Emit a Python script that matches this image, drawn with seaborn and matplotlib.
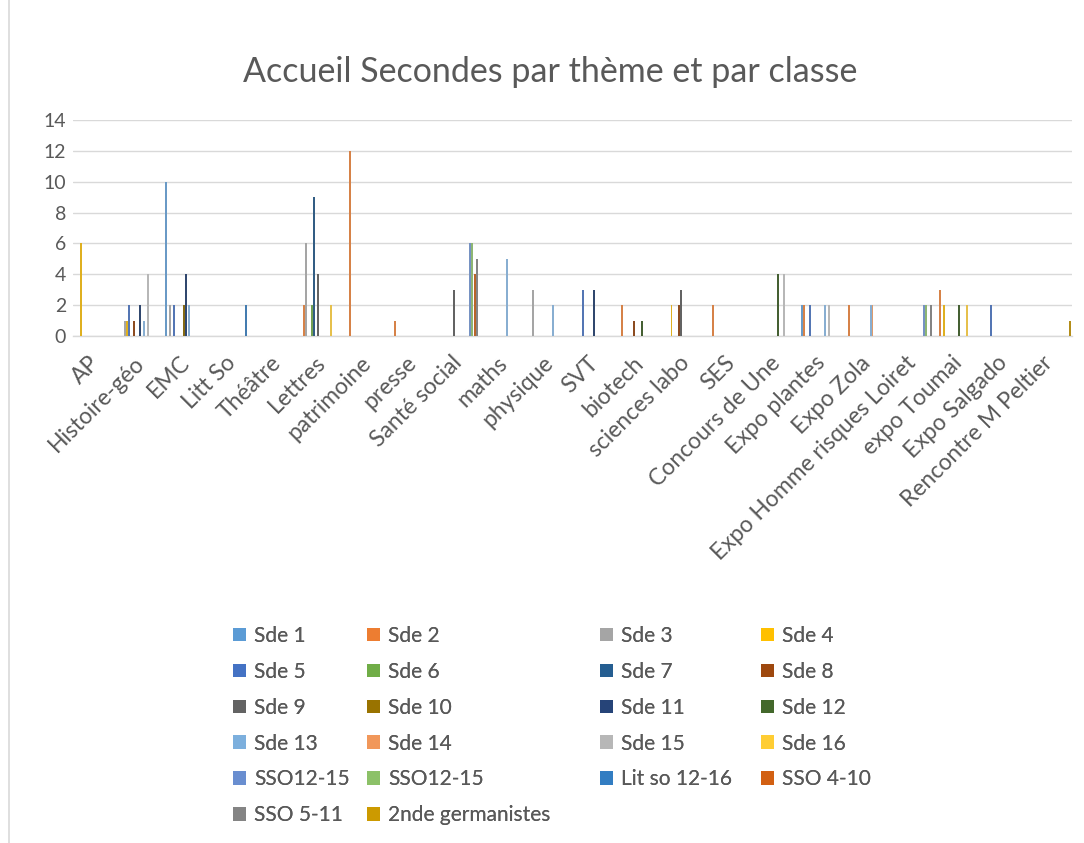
import matplotlib
matplotlib.use("Agg")
import matplotlib.pyplot as plt
import matplotlib.patches as mpatches
from matplotlib.lines import Line2D
import seaborn as sns
import pandas as pd

categories = ["AP", "Histoire-géo", "EMC", "Litt So", "Théâtre", "Lettres",
              "patrimoine", "presse", "Santé social", "maths", "physique", "SVT",
              "biotech", "sciences labo", "SES", "Concours de Une", "Expo plantes",
              "Expo Zola", "Expo Homme risques Loiret", "expo Toumai",
              "Expo Salgado", "Rencontre M Peltier"]

series_names = ["Sde 1", "Sde 2", "Sde 3", "Sde 4", "Sde 5", "Sde 6", "Sde 7", "Sde 8",
                "Sde 9", "Sde 10", "Sde 11", "Sde 12", "Sde 13", "Sde 14", "Sde 15",
                "Sde 16", "SSO12-15", "SSO12-15", "Lit so 12-16", "SSO 4-10",
                "SSO 5-11", "2nde germanistes"]

#            AP HG EMC LS Th Le pa pr SS ma ph SVT bi sl SES CU EP EZ EH ET ES RP
sde_1     = [0, 0, 10, 0, 0, 0, 0, 0, 0, 0, 0, 0, 0, 0, 0, 0, 2, 0, 0, 0, 0, 0]
sde_2     = [0, 0, 0, 0, 0, 2, 12, 1, 0, 0, 0, 0, 2, 0, 2, 0, 2, 2, 0, 3, 0, 0]
sde_3     = [0, 1, 2, 0, 0, 6, 0, 0, 0, 0, 3, 0, 0, 0, 0, 0, 0, 0, 0, 0, 0, 0]
sde_4     = [6, 1, 0, 0, 0, 0, 0, 0, 0, 0, 0, 0, 0, 2, 0, 0, 0, 0, 0, 2, 0, 0]
sde_5     = [0, 2, 2, 0, 0, 0, 0, 0, 0, 0, 0, 3, 0, 0, 0, 0, 2, 0, 0, 0, 2, 0]
sde_6     = [0, 0, 0, 0, 0, 2, 0, 0, 0, 0, 0, 0, 0, 0, 0, 0, 0, 0, 0, 0, 0, 0]
sde_7     = [0, 0, 0, 0, 0, 9, 0, 0, 0, 0, 0, 0, 0, 0, 0, 0, 0, 0, 0, 0, 0, 0]
sde_8     = [0, 1, 0, 0, 0, 0, 0, 0, 0, 0, 0, 0, 1, 2, 0, 0, 0, 0, 0, 0, 0, 0]
sde_9     = [0, 0, 0, 0, 0, 4, 0, 0, 3, 0, 0, 0, 0, 3, 0, 0, 0, 0, 0, 0, 0, 0]
sde_10    = [0, 0, 2, 0, 0, 0, 0, 0, 0, 0, 0, 0, 0, 0, 0, 0, 0, 0, 0, 0, 0, 0]
sde_11    = [0, 2, 4, 0, 0, 0, 0, 0, 0, 0, 0, 3, 0, 0, 0, 0, 0, 0, 0, 0, 0, 0]
sde_12    = [0, 0, 0, 0, 0, 0, 0, 0, 0, 0, 0, 0, 1, 0, 0, 4, 0, 0, 0, 2, 0, 0]
sde_13    = [0, 1, 2, 0, 0, 0, 0, 0, 0, 5, 2, 0, 0, 0, 0, 0, 2, 2, 0, 0, 0, 0]
sde_14    = [0, 0, 0, 0, 0, 0, 0, 0, 0, 0, 0, 0, 0, 0, 0, 0, 0, 2, 0, 0, 0, 0]
sde_15    = [0, 4, 0, 0, 0, 0, 0, 0, 0, 0, 0, 0, 0, 0, 0, 4, 2, 0, 0, 0, 0, 0]
sde_16    = [0, 0, 0, 0, 0, 2, 0, 0, 0, 0, 0, 0, 0, 0, 0, 0, 0, 0, 0, 2, 0, 0]
sso_12_15a = [0, 0, 0, 0, 0, 0, 0, 0, 6, 0, 0, 0, 0, 0, 0, 0, 0, 0, 2, 0, 0, 0]
sso_12_15b = [0, 0, 0, 0, 0, 0, 0, 0, 6, 0, 0, 0, 0, 0, 0, 0, 0, 0, 2, 0, 0, 0]
lit_so_12_16 = [0, 0, 0, 2, 0, 0, 0, 0, 0, 0, 0, 0, 0, 0, 0, 0, 0, 0, 0, 0, 0, 0]
sso_4_10  = [0, 0, 0, 0, 0, 0, 0, 0, 4, 0, 0, 0, 0, 0, 0, 0, 0, 0, 0, 0, 0, 0]
sso_5_11  = [0, 0, 0, 0, 0, 0, 0, 0, 5, 0, 0, 0, 0, 0, 0, 0, 0, 0, 2, 0, 0, 0]
germanistes = [0, 0, 0, 0, 0, 0, 0, 0, 0, 0, 0, 0, 0, 0, 0, 0, 0, 0, 0, 0, 0, 1]

series_values = [sde_1, sde_2, sde_3, sde_4, sde_5, sde_6, sde_7, sde_8, sde_9,
                 sde_10, sde_11, sde_12, sde_13, sde_14, sde_15, sde_16,
                 sso_12_15a, sso_12_15b, lit_so_12_16, sso_4_10, sso_5_11, germanistes]

colors = ["#5B9BD5", "#ED7D31", "#A5A5A5", "#FFC000", "#4472C4", "#70AD47",
          "#255E91", "#9E480E", "#636363", "#997300", "#264478", "#43682B",
          "#7CAFDD", "#F1975A", "#B7B7B7", "#FFCD33", "#698ED0", "#8CC168",
          "#327DC2", "#D26012", "#848484", "#CC9A00"]

rows = []
for k, (name, vals) in enumerate(zip(series_names, series_values)):
    for cat, v in zip(categories, vals):
        rows.append({"cat": cat, "key": f"s{k}", "val": v})
df = pd.DataFrame(rows)
keys = [f"s{k}" for k in range(len(series_names))]

sns.set_theme(style="white")
plt.rcParams["font.family"] = ["Lato", "DejaVu Sans"]

W, H = 1084, 843
fig = plt.figure(figsize=(W / 100, H / 100), dpi=100)
ax = fig.add_axes([73 / W, 1 - 336 / H, (1072 - 73) / W, (336 - 120) / H])

sns.barplot(data=df, x="cat", y="val", hue="key", order=categories, hue_order=keys,
            palette=dict(zip(keys, colors)), width=22 / 23.5, gap=0, linewidth=0,
            errorbar=None, legend=False, ax=ax, zorder=3)

ax.set_ylim(0, 14)
ax.set_yticks(range(0, 15, 2))
ax.set_xlim(-0.5, len(categories) - 0.5)
ax.set_xlabel("")
ax.set_ylabel("")
ax.yaxis.grid(True, color="#D9D9D9", linewidth=1.0, zorder=0)
ax.set_axisbelow(True)
for s in ["top", "right", "left"]:
    ax.spines[s].set_visible(False)
ax.spines["bottom"].set_color("#D9D9D9")
ax.spines["bottom"].set_linewidth(1.0)
ax.tick_params(axis="both", length=0, colors="#595959")
ax.tick_params(axis="y", pad=5, labelsize=14)
ax.tick_params(axis="x", pad=17, labelsize=16.5)
for lab in ax.get_xticklabels():
    lab.set_rotation(45)
    lab.set_ha("right")
    lab.set_va("center")
    lab.set_rotation_mode("anchor")

fig.text(550 / W, 1 - 72 / H, "Accueil Secondes par thème et par classe",
         ha="center", va="center", fontsize=24.5, color="#595959")

# legend: Excel fills row-wise in 4 columns of different widths
ncol = 4
col_x = [233, 367, 600, 761]
for c in range(ncol):
    idx = list(range(c, len(series_names), ncol))
    handles = [mpatches.Patch(facecolor=colors[i], edgecolor="none") for i in idx]
    labels = [series_names[i] for i in idx]
    leg = fig.legend(handles, labels, ncol=1, loc="upper left",
                     bbox_to_anchor=(col_x[c] / W, 1 - 626 / H), frameon=False,
                     fontsize=15, labelcolor="#595959", handlelength=0.62,
                     handleheight=0.62, handletextpad=0.4, labelspacing=0.76,
                     borderpad=0, borderaxespad=0)
    fig.add_artist(leg)

fig.add_artist(Line2D([9 / W, 9 / W], [0, 1], color="#D9D9D9", linewidth=1.2,
                      transform=fig.transFigure))

fig.savefig("out.png", dpi=100, facecolor="white")
